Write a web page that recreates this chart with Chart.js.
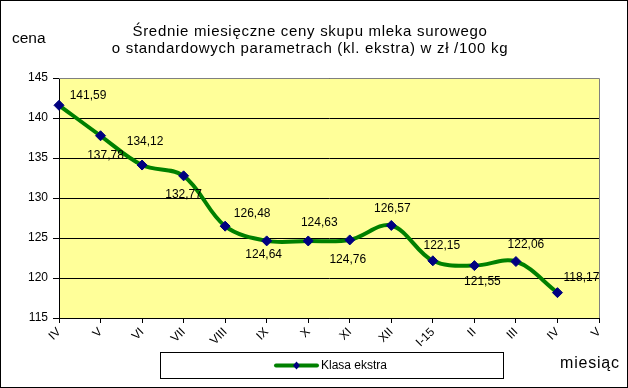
<!DOCTYPE html>
<html><head><meta charset="utf-8">
<script src="https://cdn.jsdelivr.net/npm/chart.js@4/dist/chart.umd.min.js"></script>
<style>html,body{margin:0;padding:0;background:#fff}canvas{display:block}</style>
</head><body>
<canvas id="c" width="628" height="388"></canvas>
<script>
const months = ['IV','V','VI','VII','VIII','IX','X','XI','XII','I-15','II','III','IV','V'];
const pricesKlasaEkstra = [141.59,137.78,134.12,132.77,126.48,124.64,124.63,124.76,126.57,122.15,121.55,122.06,118.17,null];
const yTicks = [115,120,125,130,135,140,145];
const seriesName = 'Klasa ekstra';
const titleLines = ['Średnie miesięczne ceny skupu mleka surowego','o standardowych parametrach (kl. ekstra) w zł /100 kg'];
const yAxisTitle = 'cena';
const xAxisTitle = 'miesiąc';

const FONT = "'Liberation Sans', Arial, sans-serif";
const labelOffsets = [[29,-10],[5,20],[3,-23],[0,19],[27,-12],[-3,14],[11,-18],[-2,20],[1,-17],[9,-15],[8,16],[10,-17],[24,-15]];

const decor = {
  id: 'decor',
  beforeDraw(chart) {
    const {ctx, chartArea: a, width, height} = chart;
    ctx.save();
    ctx.fillStyle = '#fff';
    ctx.fillRect(0, 0, width, height);
    ctx.fillStyle = '#FFFF99';
    ctx.fillRect(a.left, a.top, a.right - a.left, a.bottom - a.top);
    ctx.restore();
  },
  beforeDatasetsDraw(chart) {
    const {ctx, chartArea: a} = chart;
    ctx.save();
    ctx.strokeStyle = '#808080';
    ctx.lineWidth = 1;
    ctx.beginPath();
    ctx.moveTo(a.left, Math.round(a.top) + 0.5);
    ctx.lineTo(Math.round(a.right) + 0.5, Math.round(a.top) + 0.5);
    ctx.lineTo(Math.round(a.right) + 0.5, a.bottom);
    ctx.stroke();
    ctx.restore();
  },
  afterDatasetsDraw(chart) {
    const {ctx} = chart;
    const meta = chart.getDatasetMeta(0);
    const data = chart.data.datasets[0].data;
    ctx.save();
    ctx.font = '12px ' + FONT;
    ctx.fillStyle = '#000';
    ctx.textAlign = 'center';
    ctx.textBaseline = 'middle';
    meta.data.forEach((pt, i) => {
      const v = data[i];
      if (v === null || v === undefined) return;
      const off = labelOffsets[i] || [0, -14];
      ctx.fillText(v.toFixed(2).replace('.', ','), pt.x + off[0], pt.y + off[1]);
    });
    ctx.restore();
  },
  afterDraw(chart) {
    const {ctx, width, height} = chart;
    const ds = chart.data.datasets[0];
    ctx.save();
    ctx.fillStyle = '#000';
    ctx.textBaseline = 'middle';
    // title
    ctx.font = '15px ' + FONT;
    ctx.textAlign = 'center';
    ctx.letterSpacing = '0.7px';
    ctx.fillText(titleLines[0], 310, 32);
    ctx.fillText(titleLines[1], 310, 49);
    // axis titles
    ctx.textAlign = 'left';
    ctx.font = '15.5px ' + FONT;
    ctx.letterSpacing = '0px';
    ctx.fillText(yAxisTitle, 12, 39);
    ctx.font = '16px ' + FONT;
    ctx.letterSpacing = '0.8px';
    ctx.fillText(xAxisTitle, 560, 364);
    ctx.letterSpacing = '0px';
    // legend
    ctx.fillStyle = '#fff';
    ctx.fillRect(160.5, 352.5, 343, 26);
    ctx.strokeStyle = '#000';
    ctx.lineWidth = 1;
    ctx.strokeRect(160.5, 352.5, 343, 26);
    ctx.strokeStyle = ds.borderColor;
    ctx.lineWidth = 4;
    ctx.lineCap = 'round';
    ctx.beginPath();
    ctx.moveTo(276, 365.5);
    ctx.lineTo(317, 365.5);
    ctx.stroke();
    ctx.fillStyle = ds.pointBackgroundColor;
    ctx.beginPath();
    ctx.moveTo(296.5, 361.5); ctx.lineTo(300, 365.5); ctx.lineTo(296.5, 369.5); ctx.lineTo(293, 365.5);
    ctx.closePath(); ctx.fill();
    ctx.fillStyle = '#000';
    ctx.font = '12px ' + FONT;
    ctx.fillText(ds.label, 321, 366);
    // outer border
    ctx.strokeStyle = '#000';
    ctx.lineWidth = 1;
    ctx.strokeRect(0.5, 0.5, width - 1, height - 1);
    ctx.restore();
  }
};

new Chart(document.getElementById('c'), {
  type: 'line',
  data: {
    labels: months,
    datasets: [{
      label: seriesName,
      data: pricesKlasaEkstra,
      borderColor: '#008000',
      borderWidth: 4,
      tension: 0.35,
      pointStyle: 'rectRot',
      pointRadius: 5,
      pointBackgroundColor: '#000080',
      pointBorderColor: '#000080',
      pointBorderWidth: 1,
      clip: false
    }]
  },
  options: {
    responsive: false,
    devicePixelRatio: 1,
    animation: false,
    layout: {padding: {left: 0, top: 78, right: 29, bottom: 30}},
    plugins: {legend: {display: false}, title: {display: false}, tooltip: {enabled: false}},
    scales: {
      x: {
        type: 'category',
        offset: false,
        grid: {drawOnChartArea: false, drawTicks: true, tickLength: 5, color: '#000'},
        border: {color: '#000', width: 1},
        ticks: {autoSkip: false, maxRotation: 45, minRotation: 45, padding: 2, color: '#000', font: {family: FONT, size: 12}},
        afterFit(s) { s.height = 40; }
      },
      y: {
        min: 115, max: 145,
        grid: {color: '#000', lineWidth: 1, tickLength: 6, drawTicks: true},
        border: {color: '#000', width: 1},
        ticks: {stepSize: 5, padding: 5, color: '#000', font: {family: FONT, size: 12}},
        afterBuildTicks(s) { s.ticks = yTicks.map(v => ({value: v})); },
        afterFit(s) { s.width = 59; }
      }
    }
  },
  plugins: [decor]
});
</script>
</body></html>
